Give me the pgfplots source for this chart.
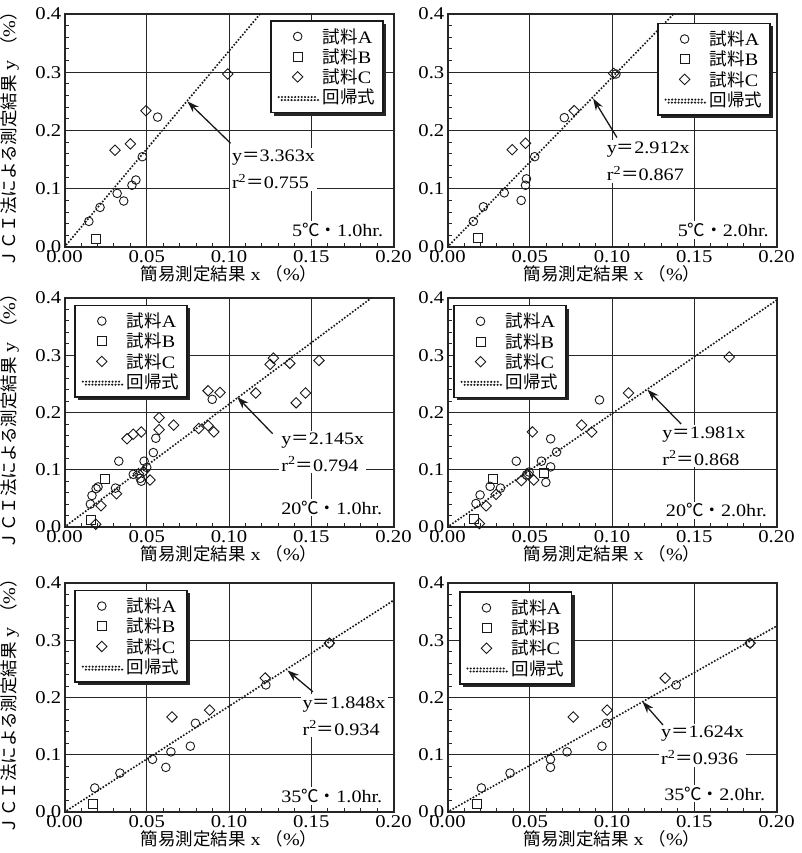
\documentclass[border=0pt]{standalone}
\usepackage{fontspec}
\setmainfont[FakeStretch=1.15]{Liberation Serif}
\newfontfamily\cjk{Noto Sans CJK JP}
\usepackage{pgfplots}
\pgfplotsset{compat=1.18}
\usetikzlibrary{arrows.meta,shadows}

\newcommand{\fs}{\fontsize{17.5}{20}\selectfont}
\newcommand{\xl}{{\cjk 簡易測定結果} x {\cjk （}\%{\cjk ）}}
\newcommand{\yl}{{\cjk ＪＣＩ法による測定結果} y {\cjk （}\%{\cjk ）}}

\tikzset{
  note/.style={fill=white, anchor=west, align=left, inner sep=2pt, font=\fs},
  cond/.style={fill=white, anchor=east, inner sep=2pt, font=\fs},
  arr/.style={black!90, line width=1.3pt, -{Stealth[length=12pt,width=8pt]}},
}

\pgfplotsset{
  panel/.style={
    scale only axis, width=329pt,
    xmin=0, xmax=0.2, ymin=0, ymax=0.4,
    xtick={0,0.05,0.1,0.15,0.2}, ytick={0,0.1,0.2,0.3,0.4},
    minor x tick num=4, minor y tick num=4,
    tick pos=left, tick align=inside,
    major tick length=0pt, minor tick length=4pt,
    grid=major,
    grid style={line width=1pt, black!85},
    axis line style={line width=2pt, black!85},
    minor tick style={line width=0.9pt, black!85},
    tick label style={font=\fontsize{18}{20}\selectfont},
    /pgf/number format/assume math mode=true,
    scaled ticks=false,
    x tick label style={/pgf/number format/.cd, fixed, fixed zerofill, precision=2, /tikz/.cd, inner sep=3.5pt},
    y tick label style={/pgf/number format/.cd, fixed, fixed zerofill, precision=1, /tikz/.cd, inner sep=3pt},
    xlabel={\xl},
    xlabel style={at={(axis description cs:0.5,0)}, anchor=center, yshift=-27pt, font=\fs},
    ylabel style={at={(axis description cs:-0.167,0.48)}, anchor=center, font=\fs},
    legend image code/.code={\draw[mark repeat=2,mark phase=2,#1] plot coordinates {(0pt,0pt) (19pt,0pt) (38pt,0pt)};},
    legend cell align=left,
    legend style={draw=black!90, line width=1.6pt, fill=white, inner sep=6.5pt,
      row sep=2pt, column sep=4pt, font=\fs, nodes={inner sep=1pt},
      drop shadow={shadow xshift=3pt, shadow yshift=-3pt, fill=black!85, opacity=1}},
  },
  pA/.style={only marks, mark=o, mark size=4.3pt, line width=0.9pt, black!90},
  pB/.style={only marks, mark=square, mark size=4.5pt, line width=0.9pt, black!90},
  pC/.style={only marks, mark=square, mark size=3.7pt, mark options={rotate=45}, line width=0.9pt, black!90},
  pR/.style={black!90, line width=2.3pt, line cap=round, dash pattern=on 0pt off 3.3pt},
}

\begin{document}
\begin{tikzpicture}
\useasboundingbox (0,0) rectangle (802pt,-853pt);

% 5C 1.0hr
\begin{axis}[panel, at={(64.5pt,-14pt)}, anchor=north west, height=233pt,
  ylabel={\yl},
  legend style={at={(0.97,0.974)}, anchor=north east}]
\addplot[pA] coordinates {(0.0148,0.044) (0.0216,0.068) (0.032,0.092) (0.036,0.079) (0.041,0.106) (0.0434,0.115) (0.0473,0.155) (0.0566,0.223)};
\addplot[pB] coordinates {(0.0192,0.014)};
\addplot[pC] coordinates {(0.0307,0.166) (0.040,0.177) (0.0495,0.234) (0.0992,0.297)};
\addplot[pR] coordinates {(0,0) (0.1189,0.4)};
\legend{{\cjk 試料}A, {\cjk 試料}B, {\cjk 試料}C, {\cjk 回帰式}}
\node[note] at (axis cs:0.1005,0.1325) {y{\cjk ＝}3.363x\\[7pt]r\textsuperscript{2}{\cjk ＝}0.755};
\draw[arr] (axis cs:0.101,0.178) -- (axis cs:0.0747,0.250);
\node[cond] at (axis cs:0.195,0.029) {5{\cjk ℃・}1.0hr.};
\end{axis}

% 5C 2.0hr
\begin{axis}[panel, at={(447.5pt,-14pt)}, anchor=north west, height=233pt,
  legend style={at={(0.982,0.963)}, anchor=north east}]
\addplot[pA] coordinates {(0.0157,0.044) (0.0218,0.069) (0.0345,0.093) (0.0448,0.080) (0.0474,0.106) (0.048,0.117) (0.053,0.155) (0.071,0.222) (0.1024,0.297)};
\addplot[pB] coordinates {(0.0187,0.015)};
\addplot[pC] coordinates {(0.0393,0.167) (0.0474,0.178) (0.077,0.234) (0.101,0.298)};
\addplot[pR] coordinates {(0,0) (0.1374,0.4)};
\legend{{\cjk 試料}A, {\cjk 試料}B, {\cjk 試料}C, {\cjk 回帰式}}
\node[note] at (axis cs:0.0955,0.147) {y{\cjk ＝}2.912x\\[7pt]r\textsuperscript{2}{\cjk ＝}0.867};
\draw[arr] (axis cs:0.103,0.188) -- (axis cs:0.0885,0.255);
\node[cond] at (axis cs:0.1966,0.029) {5{\cjk ℃・}2.0hr.};
\end{axis}

% 20C 1.0hr
\begin{axis}[panel, at={(64.5pt,-298pt)}, anchor=north west, height=229pt,
  ylabel={\yl},
  legend style={at={(0.03,0.971)}, anchor=north west}]
\addplot[pA] coordinates {(0.0157,0.040) (0.0167,0.055) (0.0192,0.067) (0.0204,0.070) (0.031,0.068) (0.033,0.115) (0.0418,0.092) (0.0467,0.080) (0.046,0.085) (0.0484,0.115) (0.050,0.104) (0.054,0.130) (0.0555,0.155) (0.0898,0.223)};
\addplot[pB] coordinates {(0.0243,0.084) (0.0161,0.012)};
\addplot[pC] coordinates {(0.019,0.005) (0.0222,0.037) (0.0316,0.058) (0.038,0.154) (0.0418,0.162) (0.0467,0.166) (0.045,0.093) (0.048,0.097) (0.052,0.082) (0.0575,0.191) (0.0575,0.170) (0.0663,0.178) (0.0816,0.172) (0.0873,0.238) (0.0873,0.177) (0.0908,0.166) (0.0945,0.235) (0.1163,0.234) (0.125,0.284) (0.127,0.295) (0.137,0.286) (0.1408,0.217) (0.1465,0.234) (0.1547,0.291)};
\addplot[pR] coordinates {(0,0) (0.1865,0.4)};
\legend{{\cjk 試料}A, {\cjk 試料}B, {\cjk 試料}C, {\cjk 回帰式}}
\node[note] at (axis cs:0.1305,0.131) {y{\cjk ＝}2.145x\\[7pt]r\textsuperscript{2}{\cjk ＝}0.794};
\draw[arr] (axis cs:0.1265,0.163) -- (axis cs:0.105,0.227);
\node[cond] at (axis cs:0.1945,0.034) {20{\cjk ℃・}1.0hr.};
\end{axis}

% 20C 2.0hr
\begin{axis}[panel, at={(447.5pt,-298pt)}, anchor=north west, height=229pt,
  legend style={at={(0.017,0.97)}, anchor=north west}]
\addplot[pA] coordinates {(0.0627,0.154) (0.0663,0.131) (0.0418,0.115) (0.0571,0.115) (0.0627,0.105) (0.0598,0.078) (0.0496,0.096) (0.048,0.091) (0.0259,0.071) (0.0322,0.068) (0.0198,0.056) (0.0173,0.041) (0.0924,0.222)};
\addplot[pB] coordinates {(0.0276,0.084) (0.0586,0.094) (0.0163,0.0135)};
\addplot[pC] coordinates {(0.0516,0.166) (0.0449,0.081) (0.0524,0.082) (0.049,0.092) (0.0296,0.057) (0.0235,0.037) (0.0194,0.006) (0.0815,0.178) (0.0877,0.166) (0.110,0.234) (0.1713,0.297)};
\addplot[pR] coordinates {(0,0) (0.2,0.3962)};
\legend{{\cjk 試料}A, {\cjk 試料}B, {\cjk 試料}C, {\cjk 回帰式}}
\node[note] at (axis cs:0.1293,0.1415) {y{\cjk ＝}1.981x\\[7pt]r\textsuperscript{2}{\cjk ＝}0.868};
\draw[arr] (axis cs:0.142,0.18) -- (axis cs:0.1215,0.240);
\node[cond] at (axis cs:0.1955,0.029) {20{\cjk ℃・}2.0hr.};
\end{axis}

% 35C 1.0hr
\begin{axis}[panel, at={(64.5pt,-583pt)}, anchor=north west, height=229pt,
  ylabel={\yl},
  legend style={at={(0.03,0.971)}, anchor=north west}]
\addplot[pA] coordinates {(0.0184,0.042) (0.0337,0.068) (0.0535,0.092) (0.0616,0.078) (0.0647,0.105) (0.0765,0.115) (0.0796,0.155) (0.1224,0.222) (0.161,0.295)};
\addplot[pB] coordinates {(0.0173,0.014)};
\addplot[pC] coordinates {(0.0653,0.166) (0.0882,0.178) (0.122,0.234) (0.161,0.295)};
\addplot[pR] coordinates {(0,0) (0.2,0.3696)};
\legend{{\cjk 試料}A, {\cjk 試料}B, {\cjk 試料}C, {\cjk 回帰式}}
\node[note] at (axis cs:0.1434,0.168) {y{\cjk ＝}1.848x\\[7pt]r\textsuperscript{2}{\cjk ＝}0.934};
\draw[arr] (axis cs:0.151,0.21) -- (axis cs:0.1355,0.2475);
\node[cond] at (axis cs:0.1945,0.028) {35{\cjk ℃・}1.0hr.};
\end{axis}

% 35C 2.0hr
\begin{axis}[panel, at={(447.5pt,-583pt)}, anchor=north west, height=229pt,
  legend style={at={(0.035,0.963)}, anchor=north west}]
\addplot[pA] coordinates {(0.0206,0.042) (0.038,0.068) (0.0626,0.092) (0.0626,0.078) (0.0727,0.105) (0.0939,0.115) (0.0966,0.155) (0.139,0.222) (0.1838,0.295)};
\addplot[pB] coordinates {(0.0178,0.014)};
\addplot[pC] coordinates {(0.0764,0.166) (0.097,0.178) (0.1323,0.234) (0.184,0.295)};
\addplot[pR] coordinates {(0,0) (0.2,0.3248)};
\legend{{\cjk 試料}A, {\cjk 試料}B, {\cjk 試料}C, {\cjk 回帰式}}
\node[note] at (axis cs:0.1285,0.116) {y{\cjk ＝}1.624x\\[7pt]r\textsuperscript{2}{\cjk ＝}0.936};
\draw[arr] (axis cs:0.131,0.152) -- (axis cs:0.1185,0.193);
\node[cond] at (axis cs:0.1945,0.032) {35{\cjk ℃・}2.0hr.};
\end{axis}
\end{tikzpicture}
\end{document}
